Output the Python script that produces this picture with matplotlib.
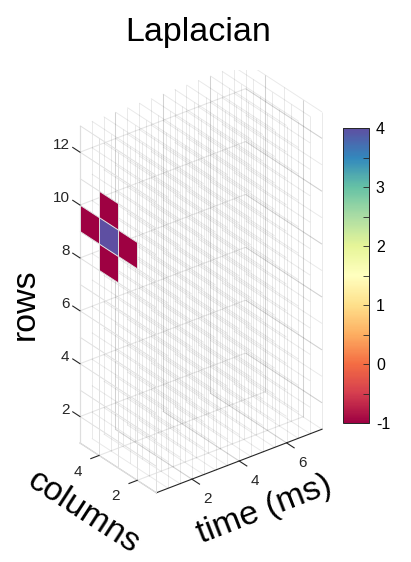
import numpy as np
import matplotlib
matplotlib.use("Agg")
import matplotlib.pyplot as plt
from matplotlib import colors
from mpl_toolkits.mplot3d import proj3d
from mpl_toolkits.mplot3d.art3d import Line3DCollection, Poly3DCollection

plt.rcParams['font.family'] = ['Liberation Sans', 'DejaVu Sans']
plt.rcParams['axes.unicode_minus'] = False

# frame times (ms) of the stacked 2-D frames
time_ms = [0.5, 1.0, 1.5, 2.0, 2.5, 3.0, 3.5, 4.0, 4.5, 5.0, 5.5, 6.0, 6.5, 7.0, 7.5]
# pixel-grid edges of every frame
row_edges = [1, 2, 3, 4, 5, 6, 7, 8, 9, 10, 11, 12, 13]
col_edges = [1, 2, 3, 4, 5]
# non-zero cells of the discrete Laplacian kernel (first frame)
kernel_rows = [10, 9, 9, 9, 8]
kernel_cols = [3, 4, 3, 2, 3]
kernel_vals = [-1, -1, 4, -1, -1]

time_ticks = [2, 4, 6]
col_ticks = [2, 4]
row_ticks = [2, 4, 6, 8, 10, 12]
cbar_ticks = [-1, 0, 1, 2, 3, 4]
cbar_minor = [-0.5, 0.5, 1.5, 2.5, 3.5]
clim = (-1, 4)

W, H = 411, 562
fig = plt.figure(figsize=(W / 100, H / 100), dpi=100)


def px_rect(cx, cy, side):
    """Square axes rectangle given in pixels (y measured upward)."""
    return [(cx - side / 2) / W, (cy - side / 2) / H, side / W, side / H]


t0, t1 = time_ms[0], time_ms[-1]
c0, c1 = col_edges[0], col_edges[-1]
r0, r1 = row_edges[0], row_edges[-1]

ax = fig.add_axes(px_rect(195.23, 278.75, 427.06), projection='3d')
ax.set_proj_type('ortho')
ax.view_init(elev=30, azim=-127.5)
ax.set_xlim(t0, t1)
ax.set_ylim(c0, c1)
ax.set_zlim(r0, r1)
ax.set_box_aspect((208, 125, 365))
ax.set_axis_off()
ax.computed_zorder = False

M = ax.get_proj()


def label_at(x, y, z, s, **kw):
    """Place a flat 2-D label at the projected position of a 3-D point."""
    xs, ys, _ = proj3d.proj_transform(x, y, z, M)
    ax.text2D(xs, ys, s, transform=ax.transData, **kw)


wall_col = (0.0, 0.0, 0.0, 0.10)
edge_col = (0.0, 0.0, 0.0, 0.085)
front_col = (0.88, 0.88, 0.88)
axis_col = '#262626'
soft_axis = '#bdbdbd'

# grid on the back walls and the floor
wall = []
for t in time_ticks:
    wall.append([(t, c1, r0), (t, c1, r1)])
    wall.append([(t, c0, r0), (t, c1, r0)])
for r in row_ticks:
    wall.append([(t0, c1, r), (t1, c1, r)])
    wall.append([(t1, c0, r), (t1, c1, r)])
for cc in col_ticks:
    wall.append([(t1, cc, r0), (t1, cc, r1)])
    wall.append([(t0, cc, r0), (t1, cc, r0)])
ax.add_collection3d(Line3DCollection(wall, colors=[wall_col], linewidths=0.8, zorder=1))

# axis lines
ax.plot([t0, t0], [c1, c1], [r0, r1], color=soft_axis, lw=0.8, zorder=2)
ax.plot([t0, t0], [c0, c1], [r0, r0], color=soft_axis, lw=0.8, zorder=2)
ax.plot([t0, t1], [c0, c0], [r0, r0], color=axis_col, lw=0.8, zorder=2)


def frame_segments(t):
    segs = [[(t, cc, r0), (t, cc, r1)] for cc in col_edges]
    segs += [[(t, c0, r), (t, c1, r)] for r in row_edges]
    return segs


# frames behind the first one
back = []
for t in time_ms[1:]:
    back += frame_segments(t)
ax.add_collection3d(Line3DCollection(back, colors=[edge_col], linewidths=0.7, zorder=3))

# Laplacian kernel cells on the first frame
cmap = plt.get_cmap('Spectral')
norm = colors.Normalize(*clim)
polys = [[(t0, cc, r), (t0, cc + 1, r), (t0, cc + 1, r + 1), (t0, cc, r + 1)]
         for r, cc in zip(kernel_rows, kernel_cols)]
ax.add_collection3d(Poly3DCollection(polys, facecolors=cmap(norm(np.array(kernel_vals))),
                                     edgecolors='none', zorder=4))
ax.add_collection3d(Line3DCollection(frame_segments(t0), colors=[front_col],
                                     linewidths=0.7, zorder=5))

# ticks and tick labels
tk = dict(color=axis_col, lw=0.8, zorder=6)
tl = dict(fontsize=11, color=axis_col)
for r in row_ticks:
    ax.plot([t0, t0], [c1, c1 + 0.38], [r, r], **tk)
    label_at(t0, c1 + 0.55, r, str(r), ha='right', va='center', **tl)
for cc in col_ticks:
    ax.plot([t0, t0 - 0.35], [cc, cc], [r0, r0], **tk)
    label_at(t0 - 0.9, cc, r0 - 0.3, str(cc), ha='center', va='center', **tl)
for t in time_ticks:
    ax.plot([t, t], [c0, c0 - 0.4], [r0, r0], **tk)
    label_at(t, c0 - 0.84, r0 - 0.37, str(t), ha='center', va='center', **tl)

# titles and axis labels
lab = dict(fontsize=24.5, color='black')
fig.text(198 / W, 1 - 41 / H, 'Laplacian', ha='center', va='baseline', **lab)
fig.text(25 / W, 1 - 304 / H, 'rows', rotation=90, ha='center', va='center', **lab)
fig.text(83 / W, 1 - 512 / H, 'columns', rotation=-33, ha='center', va='center',
         rotation_mode='anchor', **lab)
fig.text(265 / W, 1 - 510 / H, 'time (ms)', rotation=21.3, ha='center', va='center',
         rotation_mode='anchor', **lab)

# colorbar
cax = fig.add_axes([343 / W, 1 - 423 / H, 26 / W, 295 / H])
sm = plt.cm.ScalarMappable(norm=norm, cmap=cmap)
cb = fig.colorbar(sm, cax=cax)
cb.set_ticks(cbar_ticks)
cb.set_ticks(cbar_minor, minor=True)
cb.ax.tick_params(which='both', direction='in', length=4, width=0.6, color=axis_col,
                  labelsize=11.5, pad=5, labelcolor='black')
cb.outline.set_linewidth(0.7)
cb.outline.set_edgecolor(axis_col)

fig.savefig('out.png', dpi=100)
